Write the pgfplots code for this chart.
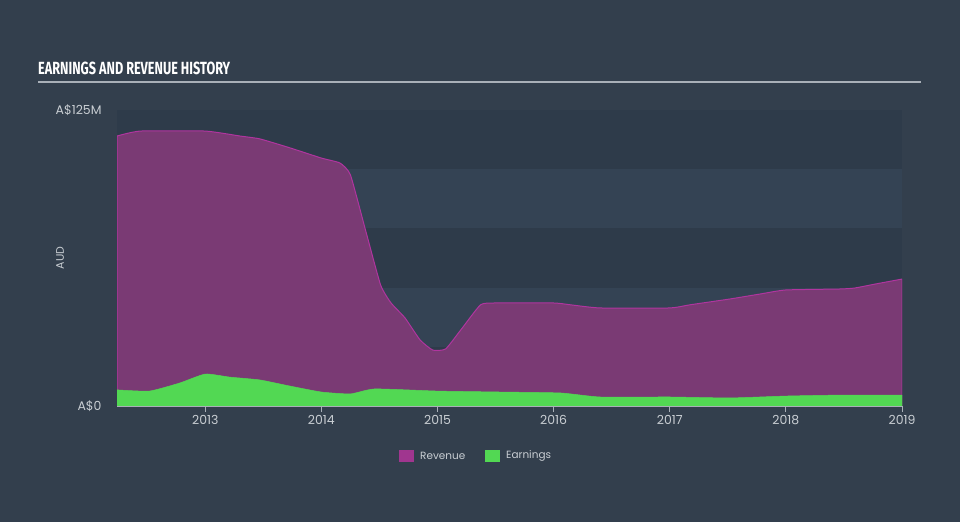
\documentclass[border=0pt]{standalone}
\usepackage{fontspec}
\setmainfont{Poppins}
\newfontfamily\titlefont{Fira Sans}
\usepackage{pgfplots}
\pgfplotsset{compat=1.18}
\definecolor{bg}{HTML}{333F4D}
\definecolor{banddark}{HTML}{2E3B4A}
\definecolor{bandlight}{HTML}{344354}
\definecolor{revfill}{HTML}{7A3A74}
\definecolor{revline}{HTML}{B0359F}
\definecolor{revleg}{HTML}{A0368F}
\definecolor{earnfill}{HTML}{52D853}
\definecolor{txt}{HTML}{C9CED3}
\definecolor{axl}{HTML}{A9B0B8}
\begin{document}
\begin{tikzpicture}[x=1bp,y=1bp]
\fill[bg] (0,0) rectangle (960,522);
\node[anchor=south west, inner sep=0pt, text=white] at (38,447) {\resizebox{192bp}{12.5bp}{\titlefont\bfseries EARNINGS AND REVENUE HISTORY}};
\draw[color=axl, line width=1.5bp] (38,440) -- (921,440);
\node[rotate=90, text=txt, font=\fontsize{11}{12}\selectfont] at (60,264) {AUD};
\begin{axis}[
  at={(117bp,116bp)}, anchor=south west,
  scale only axis, width=785bp, height=296bp,
  xmin=2012.24, xmax=2019.0, ymin=0, ymax=125,
  axis x line*=bottom, axis y line*=left,
  y axis line style={draw=none},
  x axis line style={color=axl, line width=0.8bp},
  xtick={2013,2014,2015,2016,2017,2018,2019},
  xticklabels={2013,2014,2015,2016,2017,2018,2019},
  ytick={0,125}, yticklabels={A\$0,A\$125M},
  ytick style={draw=none},
  xtick style={color=axl, line width=0.8bp},
  tick align=outside, major tick length=6bp,
  ticklabel style={text=txt, font=\fontsize{12.5}{14}\selectfont},
  yticklabel style={xshift=-6bp},
  clip=true,
]
\fill[banddark] (axis cs:2012.24,100) rectangle (axis cs:2019,125);
\fill[bandlight] (axis cs:2012.24,75) rectangle (axis cs:2019,100);
\fill[banddark] (axis cs:2012.24,50) rectangle (axis cs:2019,75);
\fill[bandlight] (axis cs:2012.24,25) rectangle (axis cs:2019,50);
\fill[banddark] (axis cs:2012.24,0) rectangle (axis cs:2019,25);
\addplot[fill=revfill, draw=revline, line width=1bp, smooth, tension=0.3] coordinates {
(2012.24,114.0) (2012.44,116.1) (2013.0,116.1) (2013.3,114.0) (2013.47,112.8)
(2013.73,109.0) (2014.0,104.7) (2014.16,102.6) (2014.25,97.6) (2014.38,74.3)
(2014.51,51.1) (2014.6,43.5) (2014.72,37.2) (2014.85,27.9) (2014.96,23.6)
(2015.07,24.1) (2015.2,32.1) (2015.37,42.7) (2015.5,43.5) (2016.0,43.5)
(2016.15,42.7) (2016.4,41.4) (2017.0,41.4) (2017.17,42.7) (2017.52,45.2)
(2017.78,47.3) (2018.0,49.0) (2018.46,49.4) (2018.59,49.8) (2018.77,51.5)
(2019.0,53.6)
} \closedcycle;
\addplot[fill=earnfill, draw=earnfill, line width=0.5bp, smooth, tension=0.3] coordinates {
(2012.24,6.8) (2012.52,6.3) (2012.78,9.7) (2013.0,13.5) (2013.21,12.2)
(2013.47,11.0) (2013.73,8.4) (2014.0,5.9) (2014.25,5.1) (2014.46,7.2)
(2015.0,6.3) (2015.54,5.9) (2016.06,5.5) (2016.4,3.8) (2017.0,3.8)
(2017.52,3.4) (2018.0,4.2) (2018.46,4.6) (2019.0,4.6)
} \closedcycle;
\end{axis}
\fill[revleg] (399,60) rectangle (414,72);
\node[anchor=west, text=txt, font=\fontsize{10.5}{12}\selectfont, inner sep=0pt] at (420,66) {Revenue};
\fill[earnfill] (485,60) rectangle (500,72);
\node[anchor=west, text=txt, font=\fontsize{10.5}{12}\selectfont, inner sep=0pt] at (506,66) {Earnings};
\end{tikzpicture}
\end{document}
